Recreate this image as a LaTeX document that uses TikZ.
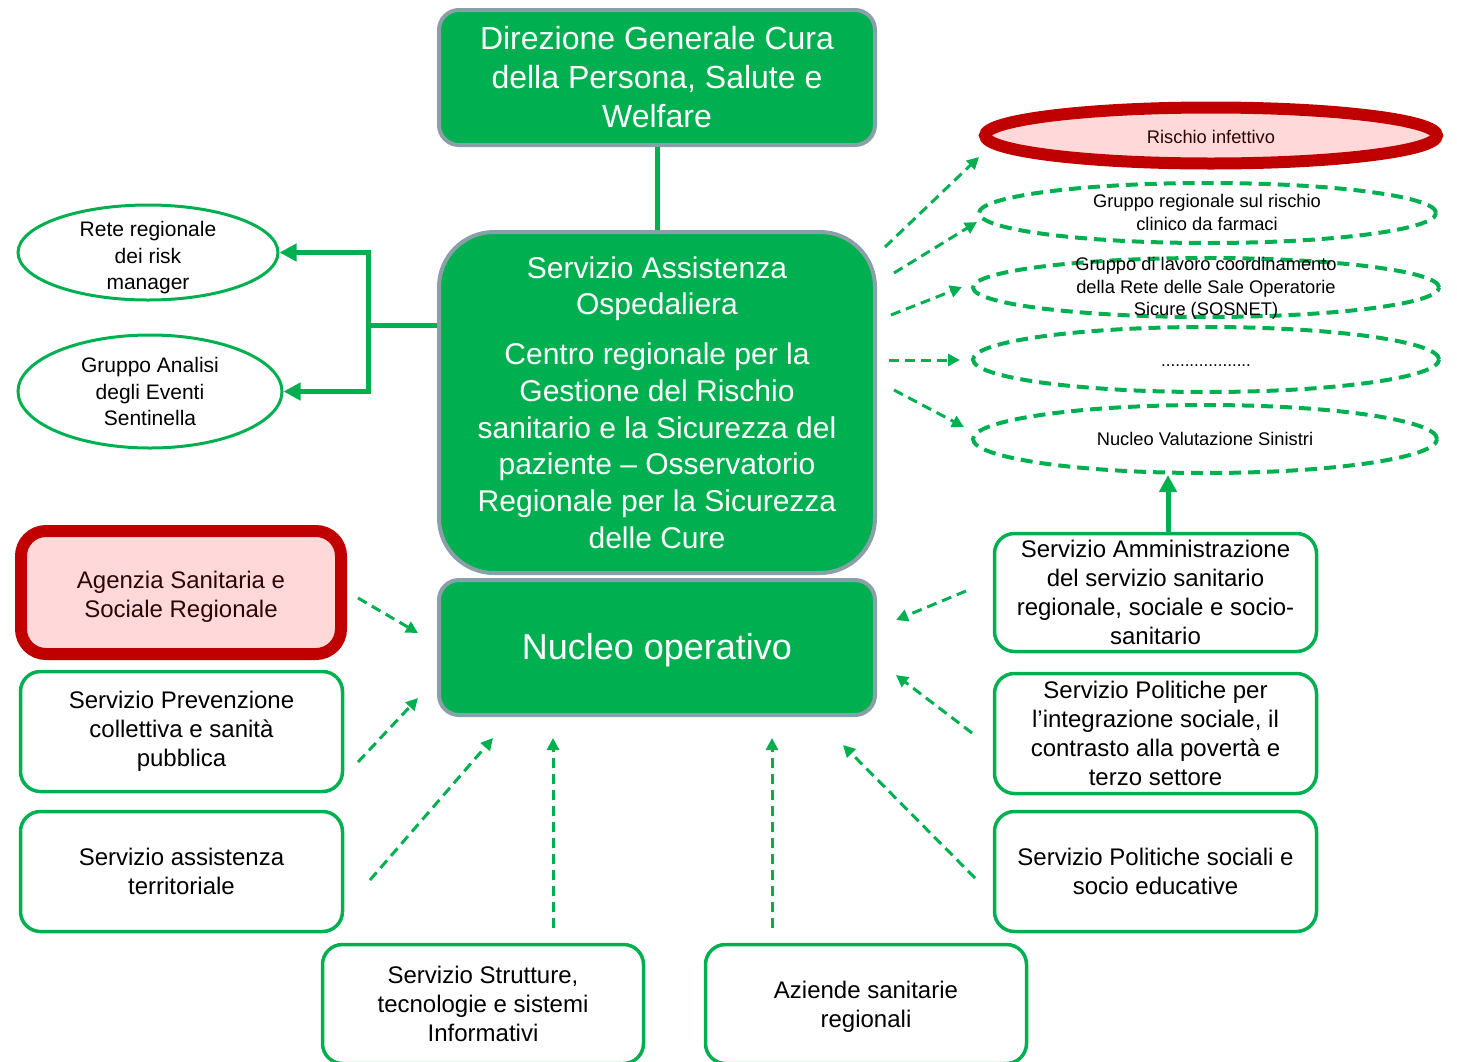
\documentclass[tikz,border=0pt]{standalone}
\usepackage{fontspec}
\setmainfont{Liberation Sans}
\usetikzlibrary{shapes.geometric,arrows.meta}
\definecolor{gr}{HTML}{00B050}
\definecolor{gborder}{HTML}{8A9FA8}
\definecolor{rd}{HTML}{C00000}
\definecolor{pk}{HTML}{FFD9D9}
\definecolor{dtxt}{HTML}{2E0505}
\begin{document}
\begin{tikzpicture}[x=1pt,y=-1pt,
 gbox/.style={draw=gborder, line width=4pt, fill=gr, text=white, align=center, inner sep=0pt, rounded corners=20pt, minimum width=436pt},
 wbox/.style={draw=gr, line width=3.5pt, fill=white, align=center, inner sep=0pt, rounded corners=20pt, minimum width=322pt, minimum height=120pt, font=\fontsize{24}{29}\selectfont},
 lell/.style={ellipse, draw=gr, line width=3pt, fill=white, inner sep=0pt},
 rell/.style={ellipse, draw=gr, line width=4pt, dash pattern=on 12pt off 7pt, inner sep=0pt},
 ltxt/.style={align=center, font=\fontsize{21}{26.5}\selectfont, inner sep=0pt},
 rtxt/.style={align=center, font=\fontsize{18.3}{22.7}\selectfont, inner sep=0pt},
 btxt/.style={align=center, inner sep=0pt, font=\fontsize{24}{29}\selectfont},
 solidline/.style={draw=gr, line width=5pt},
 solidarrow/.style={draw=gr, line width=5pt, -{Triangle[length=17pt,width=17pt]}},
 dasharrow/.style={draw=gr, line width=3pt, dash pattern=on 10pt off 6pt, -{Triangle[length=12pt,width=12pt]}},
]
\useasboundingbox (0,0) rectangle (1457,1061);
\clip (0,0) rectangle (1457,1061);

% central green boxes
\node[gbox, minimum height=135pt, font=\fontsize{32}{39}\selectfont] (dir) at (657,77.5)
  {Direzione Generale Cura\\della Persona, Salute e\\Welfare};
\node[gbox, minimum height=341pt, rounded corners=55pt, font=\fontsize{30}{36.7}\selectfont] (big) at (657,402.5)
  {Servizio Assistenza\\Ospedaliera\\[13pt]Centro regionale per la\\Gestione del Rischio\\sanitario e la Sicurezza del\\paziente – Osservatorio\\Regionale per la Sicurezza\\delle Cure};
\node[gbox, minimum height=135pt] (nuc) at (657,647.5) {};
\node[text=white, inner sep=0pt, font=\fontsize{36}{43}\selectfont] (nuct) at (657,650) {Nucleo operativo};

% left ellipses
\node[lell, minimum width=260pt, minimum height=95pt] (rete) at (148,252.5) {};
\node[ltxt] (retet) at (148,258) {Rete regionale\\dei risk\\manager};
\node[lell, minimum width=264pt, minimum height=113pt] (gaes) at (150,391.5) {};
\node[ltxt] (gaest) at (150,391.5) {Gruppo Analisi\\degli Eventi\\Sentinella};

% right ellipses
\node[ellipse, draw=rd, line width=12pt, fill=pk, inner sep=0pt, minimum width=452pt, minimum height=56pt] (e1) at (1211,135.5) {};
\node[rtxt, text=dtxt] (e1t) at (1211,137) {Rischio infettivo};
\node[rell, minimum width=457pt, minimum height=60pt] (e2) at (1207.5,213) {};
\node[rtxt] (e2t) at (1207,212.5) {Gruppo regionale sul rischio\\clinico da farmaci};
\node[rell, minimum width=466pt, minimum height=59pt] (e3) at (1206,287.5) {};
\node[rtxt] (e3t) at (1206,288.5) {Gruppo di lavoro coordinamento\\della Rete delle Sale Operatorie\\Sicure (SOSNET)};
\node[rell, minimum width=466pt, minimum height=65pt] (e4) at (1206,359.5) {};
\node[rtxt, font=\fontsize{17}{20}\selectfont] (e4t) at (1206,366) {...................};
\node[rell, minimum width=464pt, minimum height=68pt] (e5) at (1205,439) {};
\node[rtxt] (e5t) at (1205,438.5) {Nucleo Valutazione Sinistri};

% left boxes
\node[wbox, draw=rd, line width=12pt, fill=pk, minimum width=320pt, minimum height=123pt, rounded corners=25pt] (agen) at (181,592.5) {};
\node[btxt, text=dtxt] (agent) at (181,596.5) {Agenzia Sanitaria e\\Sociale Regionale};
\node[wbox] (prev) at (181.5,731.5) {Servizio Prevenzione\\collettiva e sanità\\pubblica};
\node[wbox] (terr) at (181.5,871.5) {Servizio assistenza\\territoriale};

% right boxes
\node[wbox, minimum height=118pt] (amm) at (1155.5,592.5)
  {Servizio Amministrazione\\del servizio sanitario\\regionale, sociale e socio-\\sanitario};
\node[wbox] (integ) at (1155.5,733.5)
  {Servizio Politiche per\\l’integrazione sociale, il\\contrasto alla povertà e\\terzo settore};
\node[wbox] (soc) at (1155.5,871.5) {Servizio Politiche sociali e\\socio educative};

% bottom boxes
\node[wbox, minimum width=321pt, minimum height=119pt] (strut) at (483,1004)
  {Servizio Strutture,\\tecnologie e sistemi\\Informativi};
\node[wbox, minimum width=321pt, minimum height=119pt] (az) at (866,1004) {};
\node[btxt] (azt) at (866,1006.5) {Aziende sanitarie\\regionali};

% solid connectors
\draw[solidline] (dir) -- (big);
\coordinate (jL) at (368,325);
\draw[solidline] ([yshift=77.5pt]big.west) -- (jL);
\draw[solidarrow] (jL) |- (rete);
\draw[solidarrow] (jL) |- (gaes);
\draw[solidarrow] ([xshift=12.5pt]amm.north) -- ([xshift=12.5pt]amm.north |- e5.south);

% dashed arrows to the right ellipses
\coordinate (a1s) at (885,247);  \coordinate (a1e) at (979,157);
\coordinate (a2s) at (894,273);  \coordinate (a2e) at (977,222);
\coordinate (a3s) at (891,315);  \coordinate (a3e) at (962,287);
\coordinate (a4s) at (889,360);  \coordinate (a4e) at (960,360);
\coordinate (a5s) at (894,390);  \coordinate (a5e) at (964,427);
\draw[dasharrow] (a1s) -- (a1e);
\draw[dasharrow] (a2s) -- (a2e);
\draw[dasharrow] (a3s) -- (a3e);
\draw[dasharrow] (a4s) -- (a4e);
\draw[dasharrow] (a5s) -- (a5e);

% dashed arrows to Nucleo operativo
\coordinate (b1s) at (358,598);  \coordinate (b1e) at (418,633);
\coordinate (b2s) at (358,762);  \coordinate (b2e) at (418,698);
\coordinate (b3s) at (370,880);  \coordinate (b3e) at (493,738);
\coordinate (b4s) at (553,928);  \coordinate (b4e) at (553,738);
\coordinate (b5s) at (772,928);  \coordinate (b5e) at (772,738);
\coordinate (b6s) at (975,878);  \coordinate (b6e) at (843,745);
\coordinate (b7s) at (972,733);  \coordinate (b7e) at (896,675);
\coordinate (b8s) at (966,591);  \coordinate (b8e) at (896,620);
\draw[dasharrow] (b1s) -- (b1e);
\draw[dasharrow] (b2s) -- (b2e);
\draw[dasharrow] (b3s) -- (b3e);
\draw[dasharrow] (b4s) -- (b4e);
\draw[dasharrow] (b5s) -- (b5e);
\draw[dasharrow] (b6s) -- (b6e);
\draw[dasharrow] (b7s) -- (b7e);
\draw[dasharrow] (b8s) -- (b8e);
\end{tikzpicture}
\end{document}
